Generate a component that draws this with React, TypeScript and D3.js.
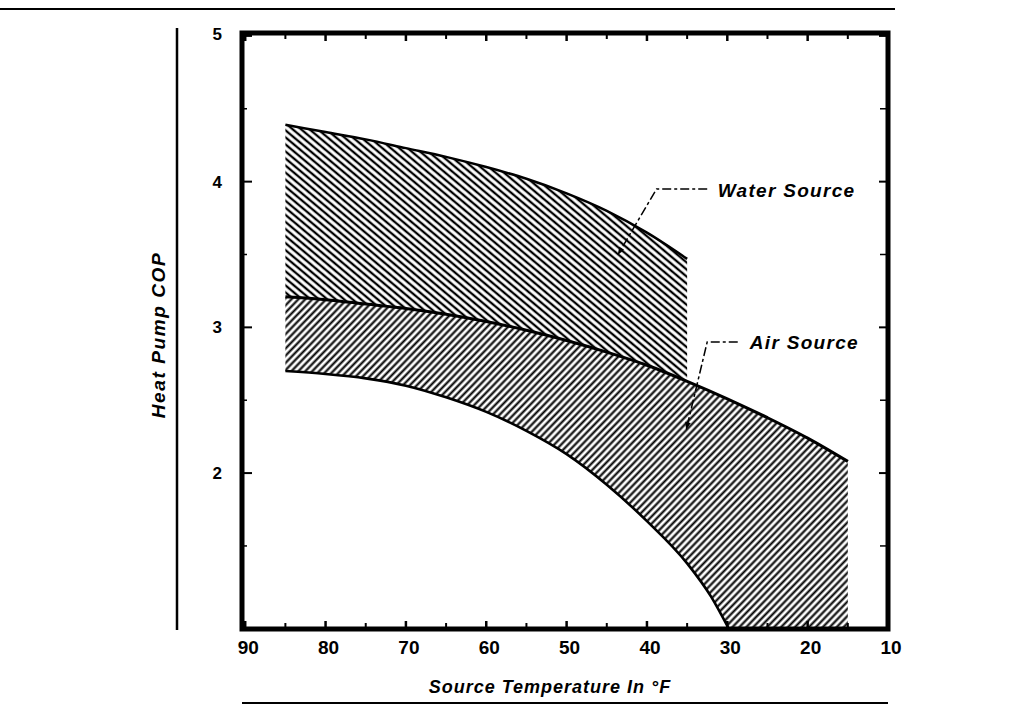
import React from "react";
import * as d3 from "d3";

// source temperature (°F) sampled along the curves
const temps = [85, 80, 75, 70, 65, 60, 55, 50, 45, 40, 35, 30, 25, 20, 15];
// upper edge of the water source band (85..35 °F)
const waterTop = [4.39, 4.34, 4.29, 4.23, 4.17, 4.1, 4.02, 3.92, 3.8, 3.65, 3.47];
// upper edge of the air source band = lower edge of water band (85..15 °F)
const airTop = [3.21, 3.19, 3.16, 3.13, 3.09, 3.04, 2.98, 2.91, 2.83, 2.74, 2.63, 2.51, 2.38, 2.24, 2.08];
// lower edge of the air source band
const airBottomTemps = [85, 80, 75, 70, 65, 60, 55, 50, 45, 40, 35, 32, 29.8];
const airBottom = [2.7, 2.68, 2.65, 2.6, 2.52, 2.42, 2.29, 2.13, 1.92, 1.67, 1.38, 1.15, 0.93];

const xTicks = [90, 80, 70, 60, 50, 40, 30, 20, 10];
const xMinorTicks = [85, 75, 65, 55, 45, 35, 25, 15];
const yTicks = [2, 3, 4, 5];
const yMinorTicks = [1.5, 2.5, 3.5, 4.5];

// annotation anchors in data units [temp, cop]
const waterLeader = [[32.5, 3.95], [38.8, 3.95], [43.6, 3.5]];
const waterLabel = [31.2, 3.94];
const airLeader = [[28.7, 2.9], [32.5, 2.9], [35.1, 2.3]];
const airLabel = [27.2, 2.9];

const W = 1015;
const H = 713;
const frame = { left: 242, right: 888, top: 33, bottom: 629 };
const font = "'Liberation Sans', Arial, Helvetica, sans-serif";

export default function App() {
  const x = d3.scaleLinear().domain([90.4, 10]).range([frame.left, frame.right]);
  const y = d3.scaleLinear().domain([0.93, 5.02]).range([frame.bottom, frame.top]);
  const yMin = y.domain()[0];

  const line = d3
    .line<number[]>()
    .x((d) => x(d[0]))
    .y((d) => y(d[1]))
    .curve(d3.curveMonotoneX);

  const waterTopPts = waterTop.map((v, i) => [temps[i], v]);
  const airTopPts = airTop.map((v, i) => [temps[i], v]);
  const bottomPts = airBottom.map((v, i) => [airBottomTemps[i], v]);

  const waterPath =
    (line(waterTopPts) as string) +
    (line(airTopPts.slice(0, waterTop.length).reverse()) as string).replace(/^M/, "L") +
    "Z";
  const lastT = temps[temps.length - 1];
  const airPath =
    (line(airTopPts) as string) +
    `L${x(lastT)},${y(yMin)}` +
    (line(bottomPts.slice().reverse()) as string).replace(/^M/, "L") +
    "Z";

  const leader = d3
    .line<number[]>()
    .x((d) => x(d[0]))
    .y((d) => y(d[1]));

  const boldItalic = { fontFamily: font, fontWeight: 700, fontStyle: "italic" as const };

  return (
    <svg
      width={W}
      height={H}
      style={{ position: "absolute", left: 0, top: 0, background: "#fff" }}
    >
      <defs>
        <pattern
          id="hatchWater"
          patternUnits="userSpaceOnUse"
          width={5.4}
          height={5.4}
          patternTransform="rotate(40)"
        >
          <line x1={0} y1={2.7} x2={5.4} y2={2.7} stroke="#000" strokeWidth={2.3} />
        </pattern>
        <pattern
          id="hatchAir"
          patternUnits="userSpaceOnUse"
          width={5}
          height={5}
          patternTransform="rotate(-46)"
        >
          <line x1={0} y1={2.5} x2={5} y2={2.5} stroke="#000" strokeWidth={2.1} />
        </pattern>
        <marker
          id="arrow"
          viewBox="0 0 10 10"
          refX={9}
          refY={5}
          markerWidth={11}
          markerHeight={8}
          markerUnits="userSpaceOnUse"
          orient="auto"
        >
          <path d="M0,1.5L10,5L0,8.5Z" fill="#000" />
        </marker>
      </defs>

      {/* page rules of the scanned sheet */}
      <line x1={0} y1={9} x2={895} y2={9} stroke="#000" strokeWidth={2} />
      <line x1={177} y1={28} x2={177} y2={630} stroke="#000" strokeWidth={2.5} />
      <line x1={frame.left} y1={703} x2={frame.right} y2={703} stroke="#000" strokeWidth={2} />

      {/* bands */}
      <path d={waterPath} fill="url(#hatchWater)" />
      <path d={airPath} fill="url(#hatchAir)" />
      <path d={line(waterTopPts) as string} fill="none" stroke="#000" strokeWidth={2.5} />
      <path d={line(airTopPts) as string} fill="none" stroke="#000" strokeWidth={3} />
      <path d={line(bottomPts) as string} fill="none" stroke="#000" strokeWidth={2.6} />

      {/* frame */}
      <rect
        x={frame.left}
        y={frame.top}
        width={frame.right - frame.left}
        height={frame.bottom - frame.top}
        fill="none"
        stroke="#000"
        strokeWidth={5}
      />

      {/* ticks */}
      {xTicks.map((t) => (
        <g key={"xt" + t}>
          <line x1={x(t)} x2={x(t)} y1={frame.bottom} y2={frame.bottom - 8} stroke="#000" strokeWidth={2.5} />
          <line x1={x(t)} x2={x(t)} y1={frame.top} y2={frame.top + 8} stroke="#000" strokeWidth={2.5} />
        </g>
      ))}
      {xMinorTicks.map((t) => (
        <g key={"xm" + t}>
          <line x1={x(t)} x2={x(t)} y1={frame.bottom} y2={frame.bottom - 6} stroke="#000" strokeWidth={2} />
          <line x1={x(t)} x2={x(t)} y1={frame.top} y2={frame.top + 6} stroke="#000" strokeWidth={2} />
        </g>
      ))}
      {yTicks.map((t) => (
        <g key={"yt" + t}>
          <line x1={frame.left} x2={frame.left + 10} y1={y(t)} y2={y(t)} stroke="#000" strokeWidth={2} />
          <line x1={frame.right} x2={frame.right - 9} y1={y(t)} y2={y(t)} stroke="#000" strokeWidth={2} />
        </g>
      ))}
      {yMinorTicks.map((t) => (
        <g key={"ym" + t}>
          <line x1={frame.left} x2={frame.left + 5} y1={y(t)} y2={y(t)} stroke="#000" strokeWidth={1.5} />
          <line x1={frame.right} x2={frame.right - 8} y1={y(t)} y2={y(t)} stroke="#000" strokeWidth={1.5} />
        </g>
      ))}

      {/* tick labels */}
      {xTicks.map((t) => (
        <text
          key={"xl" + t}
          x={x(t) + 3}
          y={647}
          dy="0.35em"
          textAnchor="middle"
          fontFamily={font}
          fontWeight={700}
          fontSize={19}
        >
          {t}
        </text>
      ))}
      {yTicks.map((t) => (
        <text
          key={"yl" + t}
          x={frame.left - 20}
          y={t === 5 ? y(t) - 2 : y(t)}
          dy="0.35em"
          textAnchor="end"
          fontFamily={font}
          fontWeight={700}
          fontSize={17}
        >
          {t}
        </text>
      ))}

      {/* axis titles */}
      <text
        x={550}
        y={687}
        dy="0.35em"
        textAnchor="middle"
        fontSize={18}
        letterSpacing={1}
        {...boldItalic}
      >
        Source Temperature In °F
      </text>
      <text
        transform="translate(158,335) rotate(-90)"
        dy="0.35em"
        textAnchor="middle"
        fontSize={19}
        letterSpacing={1.6}
        {...boldItalic}
      >
        Heat Pump COP
      </text>

      {/* callouts */}
      <path
        d={leader(waterLeader) as string}
        fill="none"
        stroke="#000"
        strokeWidth={1.5}
        strokeDasharray="9 3 3 3"
        markerEnd="url(#arrow)"
      />
      <text x={x(waterLabel[0])} y={y(waterLabel[1])} dy="0.35em" fontSize={19} letterSpacing={1.3} {...boldItalic}>
        Water Source
      </text>
      <path
        d={leader(airLeader) as string}
        fill="none"
        stroke="#000"
        strokeWidth={1.5}
        strokeDasharray="9 3 3 3"
        markerEnd="url(#arrow)"
      />
      <text x={x(airLabel[0])} y={y(airLabel[1])} dy="0.35em" fontSize={19} letterSpacing={1.3} {...boldItalic}>
        Air Source
      </text>
    </svg>
  );
}
